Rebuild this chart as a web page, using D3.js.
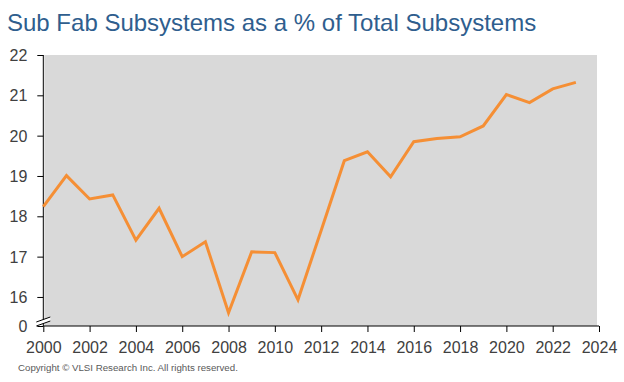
<!DOCTYPE html>
<html><head><meta charset="utf-8">
<script src="https://cdn.jsdelivr.net/npm/d3@7"></script>
<style>body{margin:0;background:#fff;font-family:"Liberation Sans",Arial,sans-serif;}</style>
</head><body><svg id="c" width="624" height="382"></svg>
<script>
const years = [2000,2001,2002,2003,2004,2005,2006,2007,2008,2009,2010,2011,2012,2013,2014,2015,2016,2017,2018,2019,2020,2021,2022,2023];
const shares = [18.24,19.01,18.43,18.53,17.41,18.2,17.0,17.37,15.61,17.12,17.1,15.93,17.65,19.38,19.6,18.98,19.85,19.93,19.97,20.24,21.02,20.82,21.16,21.32];
const xTicks = [2000,2002,2004,2006,2008,2010,2012,2014,2016,2018,2020,2022,2024];
const yTicks = [16,17,18,19,20,21,22];
const yAxisFloor = 15.28; // broken axis: bottom labelled "0"
const title = "Sub Fab Subsystems as a % of Total Subsystems";
const copyright = "Copyright \u00a9 VLSI Research Inc. All rights reserved.";

const svg = d3.select("#c");
const x = d3.scaleLinear().domain([2000,2024]).range([43.3,599]);
const y = d3.scaleLinear().domain([yAxisFloor,22]).range([326,55]);

svg.append("text").attr("x",7).attr("y",31).attr("fill","#2f5e8e")
  .style("font-size","24px").text(title);

svg.append("rect").attr("x",x(2000)+1).attr("y",y(22)).attr("width",x(2024)-x(2000)-3)
  .attr("height",y(yAxisFloor)-y(22)).attr("fill","#d9d9d9");

const yAxis = d3.axisLeft(y).tickValues([yAxisFloor].concat(yTicks)).tickSize(6).tickPadding(10)
  .tickFormat(d => d===yAxisFloor ? "0" : d3.format("d")(d));
const gy = svg.append("g").attr("transform",`translate(${x(2000)},0)`).call(yAxis);
gy.select(".domain").remove();
gy.append("line").attr("x1",0).attr("x2",0).attr("y1",y(22)).attr("y2",y(yAxisFloor)).attr("stroke","#000");

const xAxis = d3.axisBottom(x).tickValues(xTicks).tickSize(6).tickPadding(6).tickFormat(d3.format("d"));
const gx = svg.append("g").attr("transform",`translate(0,${y(yAxisFloor)})`).call(xAxis);
gx.select(".domain").attr("d",`M${x(2000)},0H${x(2024)}`).attr("stroke","#000");

[gx,gy].forEach(g=>{
  g.selectAll("text").attr("fill","#404040").style("font-size","16px").style("font-family","'Liberation Sans',Arial,sans-serif");
  g.selectAll(".tick line").attr("stroke","#000");
});
gx.selectAll("text").attr("dy","0.95em");
gy.selectAll("text").attr("dy","0.35em");

// axis break marks
const bx = x(2000), by = y(yAxisFloor) - 6;
svg.append("path").attr("d",`M${bx-7},${by+2}L${bx+7},${by-3}L${bx+7},${by+1}L${bx-7},${by+6}Z`).attr("fill","#fff");
svg.append("path").attr("d",`M${bx-7},${by+2}L${bx+7},${by-3}M${bx-7},${by+6}L${bx+7},${by+1}`)
  .attr("stroke","#000").attr("stroke-width",1).attr("fill","none");

const line = d3.line().x((d,i)=>x(years[i])).y(d=>y(d));
svg.append("path").datum(shares).attr("d",line).attr("fill","none")
  .attr("stroke","#f58f35").attr("stroke-width",3).attr("stroke-linejoin","miter");

svg.append("text").attr("x",18).attr("y",371).attr("fill","#595959").style("font-size","9.7px").text(copyright);
</script></body></html>
